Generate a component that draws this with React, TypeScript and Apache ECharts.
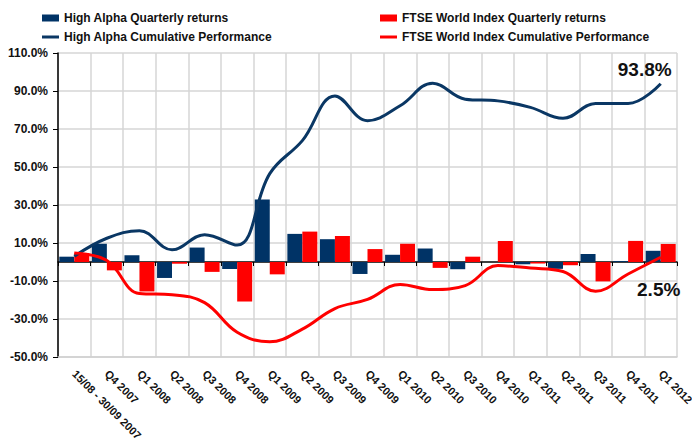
import React, { useEffect, useRef } from "react";
import * as echarts from "echarts";

const categories = [
  "15/08 - 30/09 2007", "Q4 2007", "Q1 2008", "Q2 2008", "Q3 2008", "Q4 2008",
  "Q1 2009", "Q2 2009", "Q3 2009", "Q4 2009", "Q1 2010", "Q2 2010", "Q3 2010",
  "Q4 2010", "Q1 2011", "Q2 2011", "Q3 2011", "Q4 2011", "Q1 2012",
];

const highAlphaQuarterly = [2.8, 9.6, 3.6, -8.4, 7.6, -3.7, 32.9, 14.8, 12.0, -6.3, 3.8, 7.1, -3.8, 0, -1.2, -3.6, 4.2, 0.5, 5.9];
const ftseQuarterly = [4.7, -4.4, -15.5, -0.9, -5.2, -20.8, -6.5, 16.0, 13.7, 6.8, 9.6, -3.1, 2.8, 11.1, -0.8, -1.7, -10.2, 11.1, 9.5];
const highAlphaCumulative = [3.0, 12.5, 16.5, 6.4, 14.4, 8.9, 46.5, 63.9, 87.4, 74.4, 82.2, 94.1, 85.7, 84.8, 81.4, 75.6, 83.4, 83.4, 93.8];
const ftseCumulative = [4.7, 0.8, -16.6, -17.2, -21.4, -37.0, -42.0, -35.3, -24.5, -19.7, -11.8, -14.5, -12.4, -1.9, -3.2, -5.0, -15.4, -6.3, 2.5];

const seriesNames = [
  "High Alpha Quarterly returns",
  "FTSE World Index Quarterly returns",
  "High Alpha Cumulative Performance",
  "FTSE World Index Cumulative Performance",
];

const FONT = "'Liberation Sans', Arial, sans-serif";
const NAVY = "#003366";
const NAVY_LINE = "#0a3764";
const RED = "#ff0000";

export default function App() {
  const ref = useRef<HTMLDivElement>(null);

  useEffect(() => {
    if (!ref.current) return;
    const chart = echarts.init(ref.current, null, { renderer: "svg" });
    const lastIdx = categories.length - 1;

    const legendBase = {
      padding: 0,
      itemGap: 0,
      itemWidth: 17,
      textStyle: { fontFamily: FONT, fontSize: 12, fontWeight: "bold", color: "#111" },
      selectedMode: false,
    };

    const endLabel = (offset: number[], position: string) => ({
      show: true,
      position,
      distance: 5,
      offset,
      formatter: (p: any) => Number(p.value).toFixed(1) + "%",
      fontFamily: FONT,
      fontSize: 19,
      fontWeight: "bold",
      color: "#111",
    });

    chart.setOption({
      animation: false,
      backgroundColor: "#ffffff",
      textStyle: { fontFamily: FONT },
      legend: [
        { ...legendBase, data: [seriesNames[0]], left: 42, top: 12, icon: "rect", itemHeight: 7 },
        { ...legendBase, data: [seriesNames[1]], left: 380, top: 12, icon: "rect", itemHeight: 7 },
        { ...legendBase, data: [seriesNames[2]], left: 42, top: 31, icon: "rect", itemHeight: 3 },
        { ...legendBase, data: [seriesNames[3]], left: 380, top: 31, icon: "rect", itemHeight: 3 },
      ],
      grid: { left: 58, right: 15, top: 53, bottom: 86, containLabel: false, outerBoundsMode: "none" },
      xAxis: [
        {
          type: "category",
          data: categories,
          position: "bottom",
          boundaryGap: true,
          axisLine: { show: true, onZero: false, lineStyle: { color: "#d0d0d0", width: 1.5 } },
          axisTick: { show: false },
          axisLabel: {
            interval: 0,
            rotate: -45,
            margin: 15,
            fontFamily: FONT,
            fontSize: 11,
            fontWeight: "bold",
            color: "#111",
          },
          splitLine: { show: true, interval: 0, lineStyle: { color: "#d6d6d6", width: 1.5 } },
        },
        {
          type: "category",
          data: categories,
          position: "top",
          boundaryGap: true,
          axisLine: { show: true, onZero: true, lineStyle: { color: "#000", width: 1.5 } },
          axisTick: { show: true, inside: true, length: 4, interval: 0, lineStyle: { color: "#000" } },
          axisLabel: { show: false },
          splitLine: { show: false },
        },
      ],
      yAxis: {
        type: "value",
        min: -50,
        max: 110,
        interval: 20,
        axisLine: { show: true, lineStyle: { color: "#000", width: 1.5 } },
        axisTick: { show: true, length: 5, lineStyle: { color: "#000" } },
        axisLabel: {
          formatter: (v: number) => v.toFixed(1) + "%",
          margin: 10,
          fontFamily: FONT,
          fontSize: 12,
          fontWeight: "bold",
          color: "#111",
        },
        splitLine: { show: true, lineStyle: { color: "#d6d6d6", width: 1.5 } },
      },
      series: [
        {
          name: seriesNames[0],
          type: "bar",
          xAxisIndex: 0,
          data: highAlphaQuarterly,
          barGap: "0%",
          barCategoryGap: "8%",
          itemStyle: { color: NAVY },
          z: 2,
        },
        {
          name: seriesNames[1],
          type: "bar",
          xAxisIndex: 0,
          data: ftseQuarterly,
          barGap: "0%",
          barCategoryGap: "8%",
          itemStyle: { color: RED },
          z: 2,
        },
        {
          name: seriesNames[2],
          type: "line",
          xAxisIndex: 0,
          smooth: 0.4,
          showSymbol: true,
          symbol: "circle",
          symbolSize: 0,
          data: highAlphaCumulative.map((v, i) =>
            i === lastIdx ? { value: v, label: endLabel([-16, 0], "top") } : v
          ),
          itemStyle: { color: NAVY_LINE },
          lineStyle: { color: NAVY_LINE, width: 3 },
          z: 5,
        },
        {
          name: seriesNames[3],
          type: "line",
          xAxisIndex: 0,
          smooth: 0.4,
          showSymbol: true,
          symbol: "circle",
          symbolSize: 0,
          data: ftseCumulative.map((v, i) =>
            i === lastIdx ? { value: v, label: endLabel([-2, 18], "bottom") } : v
          ),
          itemStyle: { color: RED },
          lineStyle: { color: RED, width: 3 },
          z: 5,
        },
      ],
    });

    return () => chart.dispose();
  }, []);

  return (
    <div
      ref={ref}
      style={{ position: "fixed", left: 0, top: 0, width: 692, height: 443, background: "#fff" }}
    />
  );
}
